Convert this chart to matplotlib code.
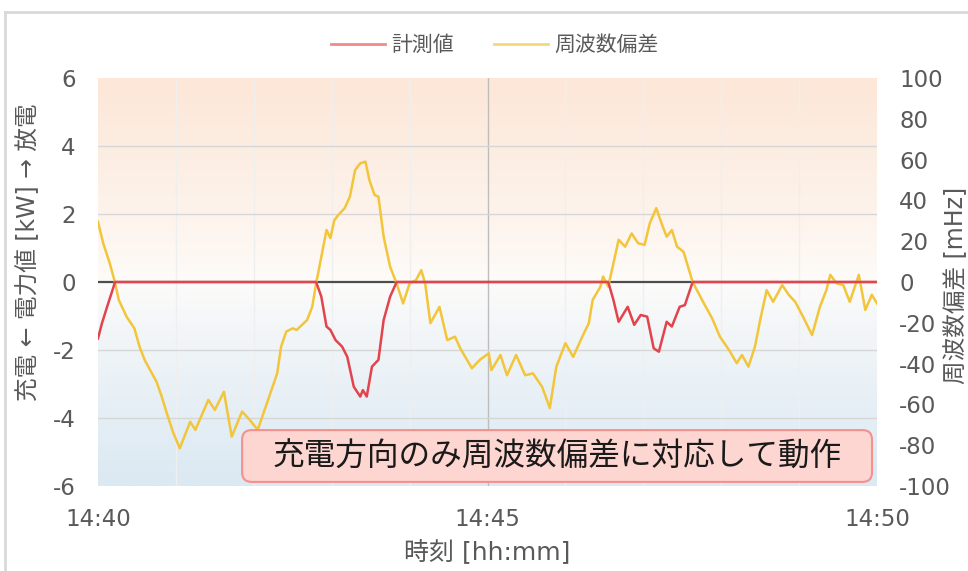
import numpy as np
import matplotlib
matplotlib.use("Agg")
import matplotlib.pyplot as plt
from matplotlib.patches import FancyBboxPatch
from matplotlib.lines import Line2D

plt.rcParams['font.family'] = ['DejaVu Sans', 'Noto Sans CJK JP']
plt.rcParams['axes.unicode_minus'] = False

# frequency deviation [mHz], time in seconds after 14:40
freq_sec = [0, 4, 9, 13, 16, 22, 28, 32, 36, 45, 49, 53, 58, 63, 71, 75, 85, 90, 97, 103,
            111, 117, 123, 131, 138, 141, 145, 150, 153, 161, 165, 168, 172, 176, 179, 182,
            185, 190, 194, 198, 202, 206, 209, 213, 216, 220, 225, 230, 235, 240, 245, 249,
            252, 256, 263, 269, 275, 279, 288, 294, 301, 303, 310, 315, 322, 329, 335, 342,
            348, 353, 360, 366, 373, 378, 381, 387, 389, 393, 397, 401, 406, 411, 416, 421,
            425, 430, 434, 438, 442, 446, 451, 458, 466, 473, 479, 486, 492, 496, 501, 506,
            510, 515, 520, 527, 532, 537, 543, 550, 556, 561, 564, 569, 574, 579, 586, 591,
            596, 600]
freq_mhz = [29.5, 19, 9.3, 0, -8.8, -17, -22.7, -31.7, -38.3, -48.8, -56, -64.3, -74, -81.5,
            -68.5, -72.5, -57.8, -62.7, -53.8, -75.8, -63.5, -67.7, -72.5, -57.8, -44.8, -31.7,
            -24.3, -22.7, -23.5, -18.7, -12.2, -0.7, 12.3, 25.5, 21.5, 30.3, 32.8, 36.2, 41.8,
            54.8, 58.2, 59, 50, 42.7, 41.8, 22.2, 7.5, -0.7, -10.5, -0.7, 1, 5.8, -0.7, -20.2,
            -12.2, -28.5, -26.8, -32.5, -42.3, -38.2, -35, -43.2, -35.8, -45.7, -35.8, -45.7,
            -44.8, -51.3, -61.8, -41.5, -30, -36.7, -26.8, -20.3, -8.8, -2.3, 2.7, -2.3, 9.2,
            20.7, 17.3, 23.8, 19, 18.2, 28.8, 36.2, 28.8, 22.2, 25.5, 17.3, 14.8, 0, -9.7,
            -17.8, -26.8, -33.3, -39.8, -35.8, -41.5, -31.7, -18.7, -4, -9.7, -1.5, -6.3, -9.7,
            -17, -26, -12.2, -4, 3.5, -0.7, -1.5, -9.7, 3.5, -13.7, -6.3, -10.5]

# measured power [kW]
power_sec = [0, 3, 7, 12, 13, 168, 172, 176, 179, 183, 188, 192, 197, 202, 204, 207, 211, 216,
             220, 225, 230, 393, 397, 401, 408, 413, 418, 423, 428, 432, 438, 442, 448, 452,
             458, 600]
power_kw = [-1.66, -1.22, -0.73, -0.14, 0, 0, -0.43, -1.31, -1.41, -1.71, -1.90, -2.2, -3.08,
            -3.37, -3.18, -3.37, -2.49, -2.29, -1.12, -0.43, 0, 0, -0.53, -1.17, -0.73, -1.26,
            -0.97, -1.02, -1.95, -2.05, -1.17, -1.31, -0.73, -0.68, 0, 0]

x_ticks = [0, 5, 10]
x_labels = ["14:40", "14:45", "14:50"]

RED = "#e2434c"
YELLOW = "#f2c53a"
GRAY = "#595959"

fig = plt.figure(figsize=(9.68, 5.71), dpi=100)
ax = fig.add_axes([98 / 968, 85 / 571, 779 / 968, 408 / 571])
ax2 = ax.twinx()

# ax2 (frequency axis) sits underneath: background, grid, yellow line
n = 256
yy = np.linspace(1, -1, n)
top = np.array([252, 231, 216]) / 255
mid = np.array([254, 252, 250]) / 255
bot = np.array([219, 233, 243]) / 255
grad = np.zeros((n, 1, 3))
for i, v in enumerate(yy):
    if v >= 0:
        grad[i, 0] = mid + (top - mid) * v ** 0.8
    else:
        grad[i, 0] = mid + (bot - mid) * (-v) ** 0.8
ax2.imshow(grad, extent=[0, 10, -100, 100], aspect='auto', zorder=0, interpolation='bilinear')

for m in range(1, 10):
    if m != 5:
        ax2.axvline(m, color="#efefef", lw=1, zorder=1)
ax2.axvline(5, color="#bdbdbd", lw=1, zorder=1)
for yv in [-66.67, -33.33, 33.33, 66.67]:
    ax2.axhline(yv, color="#d6d6d6", lw=1, zorder=1)
ax2.axhline(0, color="#4d4d4d", lw=1.6, zorder=2)

ax2.plot(np.array(freq_sec) / 60, freq_mhz, color=YELLOW, lw=1.8, zorder=3)

# ax (power axis) on top: red line
ax.plot(np.array(power_sec) / 60, power_kw, color=RED, lw=1.8, zorder=4)
ax2.set_zorder(1)
ax.set_zorder(2)
ax.patch.set_visible(False)

ax.set_xlim(0, 10)
ax.set_ylim(-6, 6)
ax2.set_ylim(-100, 100)
ax.set_yticks([-6, -4, -2, 0, 2, 4, 6])
ax2.set_yticks(range(-100, 101, 20))
ax.set_xticks(x_ticks)
ax.set_xticklabels(x_labels)
for a in (ax, ax2):
    for s in a.spines.values():
        s.set_visible(False)
    a.tick_params(length=0, labelsize=16.5, colors=GRAY, pad=16)

# annotation box
box = FancyBboxPatch((0.185, 0.01), 0.8086, 0.127,
                     boxstyle="round,pad=0,rounding_size=0.012",
                     mutation_aspect=779 / 408, transform=ax.transAxes,
                     facecolor="#fdd6d1", edgecolor="#f4908e", lw=1.5, zorder=10, clip_on=False)
ax.add_patch(box)
ax.text(0.589, 0.071, "充電方向のみ周波数偏差に対応して動作", transform=ax.transAxes,
        ha='center', va='center', fontsize=22.8, color="#1a1a1a",
        family=['Noto Sans CJK JP', 'DejaVu Sans'], zorder=11)

# axis labels
fig.text(28 / 968, 1 - 252 / 571, "充電 ← 電力値 [kW] → 放電", rotation=90,
         ha='center', va='center', fontsize=17, color=GRAY)
fig.text(956 / 968, 1 - 285 / 571, "周波数偏差 [mHz]", rotation=90,
         ha='center', va='center', fontsize=17, color=GRAY)
fig.text(487 / 968, 1 - 552 / 571, "時刻 [hh:mm]", ha='center', va='center',
         fontsize=18, color=GRAY)

# legend
handles = [Line2D([], [], color="#f08a8f", lw=2), Line2D([], [], color="#f6d87a", lw=2)]
fig.legend(handles, ["計測値", "周波数偏差"], loc='center', bbox_to_anchor=(0.511, 0.921),
           ncol=2, frameon=False, fontsize=15, handlelength=2.6, columnspacing=1.9,
           handletextpad=0.3, labelcolor=GRAY)

# outer frame
fig.add_artist(Line2D([5 / 968, 5 / 968], [0, 1 - 12 / 571], transform=fig.transFigure,
                      color="#d9d9d9", lw=2))
fig.add_artist(Line2D([5 / 968, 1], [1 - 12 / 571, 1 - 12 / 571], transform=fig.transFigure,
                      color="#d9d9d9", lw=2))

fig.savefig("out.png", dpi=100, facecolor="white")
